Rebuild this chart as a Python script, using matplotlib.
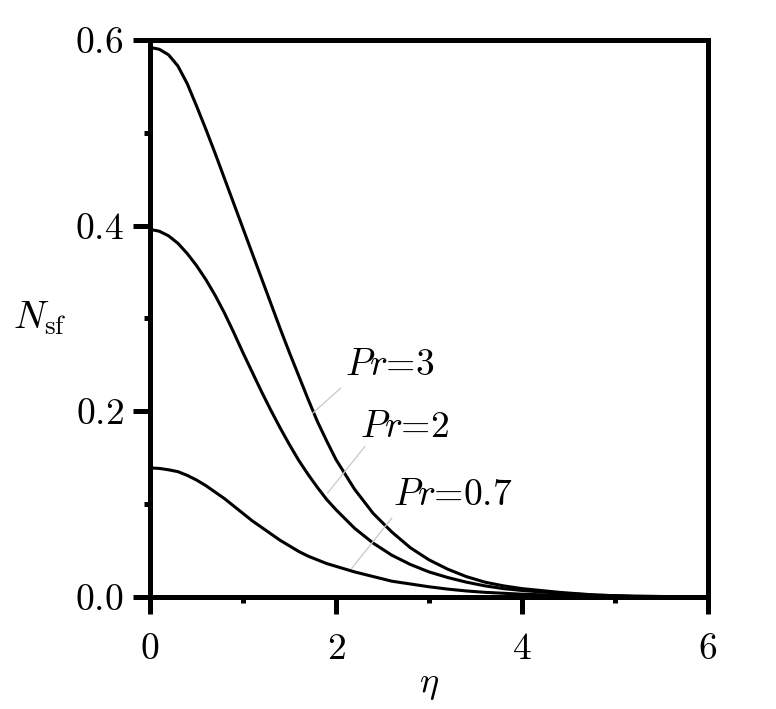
import matplotlib
matplotlib.use('Agg')
from matplotlib import pyplot as plt
from matplotlib.ticker import MultipleLocator

plt.rcParams['mathtext.fontset'] = 'cm'
plt.rcParams['font.family'] = 'serif'
plt.rcParams['font.serif'] = ['cmr10', 'DejaVu Serif']

# curves
eta = [0, 0.1, 0.2, 0.3, 0.4, 0.5, 0.6, 0.7, 0.8, 0.9, 1.0, 1.1, 1.2, 1.3,
       1.4, 1.5, 1.6, 1.7, 1.8, 1.9, 2.0, 2.2, 2.4, 2.6, 2.8, 3.0, 3.2,
       3.4, 3.6, 3.8, 4.0, 4.4, 4.8, 5.2, 6.0]
ns_pr3 = [0.592, 0.590, 0.584, 0.572, 0.553, 0.529, 0.504, 0.478, 0.451,
          0.424, 0.397, 0.370, 0.343, 0.316, 0.289, 0.263, 0.238, 0.213,
          0.189, 0.168, 0.148, 0.116, 0.090, 0.070, 0.053, 0.040, 0.030,
          0.022, 0.016, 0.012, 0.009, 0.005, 0.002, 0.0008, 0.0]
ns_pr2 = [0.396, 0.394, 0.389, 0.381, 0.370, 0.357, 0.342, 0.325, 0.306,
          0.285, 0.263, 0.242, 0.221, 0.201, 0.182, 0.164, 0.147, 0.132,
          0.118, 0.105, 0.094, 0.074, 0.058, 0.045, 0.035, 0.027, 0.021,
          0.016, 0.012, 0.009, 0.007, 0.004, 0.002, 0.0008, 0.0]
ns_pr07 = [0.139, 0.1385, 0.137, 0.135, 0.131, 0.126, 0.120, 0.113, 0.106,
           0.098, 0.090, 0.082, 0.075, 0.068, 0.061, 0.055, 0.049, 0.044,
           0.040, 0.036, 0.033, 0.027, 0.022, 0.017, 0.014, 0.011, 0.0085,
           0.0065, 0.005, 0.004, 0.003, 0.0018, 0.001, 0.0004, 0.0]

x_ticks = [0, 2, 4, 6]
y_ticks = [0.0, 0.2, 0.4, 0.6]

# label text, text anchor, leader line (start on curve, end near text)
labels = ['$Pr$=3', '$Pr$=2', '$Pr$=0.7']
label_pos = [(2.10, 0.239), (2.26, 0.172), (2.61, 0.099)]
leaders = [((1.75, 0.198), (2.05, 0.225)),
           ((1.91, 0.112), (2.31, 0.162)),
           ((2.17, 0.031), (2.60, 0.085))]

fig = plt.figure(figsize=(7.76, 7.09), dpi=100)
ax = fig.add_axes([0.1933, 0.158, 0.7191, 0.7856])

for ys in (ns_pr3, ns_pr2, ns_pr07):
  ax.plot(eta, ys, color='black', lw=2.2)

for (p0, p1) in leaders:
  ax.plot([p0[0], p1[0]], [p0[1], p1[1]], color='#c8c8c8', lw=0.9)

for txt, (lx, ly) in zip(labels, label_pos):
  ax.text(lx, ly, txt, fontsize=27, ha='left', va='baseline')

ax.set_xlim(0, 6)
ax.set_ylim(0, 0.6)
ax.set_xticks(x_ticks)
ax.set_xticklabels(['$%g$' % v for v in x_ticks])
ax.set_yticks(y_ticks)
ax.set_yticklabels(['$%.1f$' % v for v in y_ticks])
ax.xaxis.set_minor_locator(MultipleLocator(1))
ax.yaxis.set_minor_locator(MultipleLocator(0.1))

for sp in ax.spines.values():
  sp.set_linewidth(3.6)
ax.tick_params(which='major', direction='out', length=12, width=3.6,
               labelsize=27)
ax.tick_params(axis='x', which='major', pad=14)
ax.tick_params(axis='y', which='major', pad=7)
ax.tick_params(which='minor', direction='out', length=4.5, width=3.6)

fig.text(13 / 776, 1 - 328 / 709, r'$N_{\mathrm{sf}}$', fontsize=28,
         ha='left', va='baseline')
fig.text(429 / 776, 1 - 692 / 709, r'$\eta$', fontsize=26,
         ha='center', va='baseline')

fig.savefig('out.png', dpi=100)
